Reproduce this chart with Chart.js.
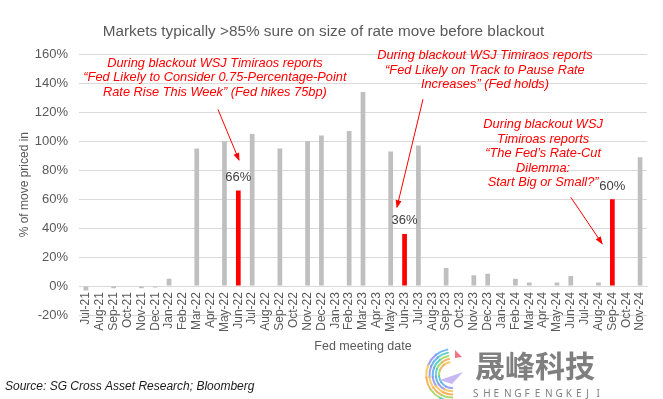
<!DOCTYPE html>
<html>
<head>
<meta charset="utf-8">
<script src="https://cdn.jsdelivr.net/npm/chart.js@4.4.0/dist/chart.umd.min.js"></script>
<style>
  html, body { margin: 0; padding: 0; background: #fff; }
</style>
</head>
<body>
<canvas id="myChart" width="663" height="399"></canvas>
<script>
// les mois (reunions de la Fed ou pas)
const months = ['Jul-21','Aug-21','Sep-21','Oct-21','Nov-21','Dec-21',
  'Jan-22','Feb-22','Mar-22','Apr-22','May-22','Jun-22','Jul-22','Aug-22','Sep-22','Oct-22','Nov-22','Dec-22',
  'Jan-23','Feb-23','Mar-23','Apr-23','May-23','Jun-23','Jul-23','Aug-23','Sep-23','Oct-23','Nov-23','Dec-23',
  'Jan-24','Feb-24','Mar-24','Apr-24','May-24','Jun-24','Jul-24','Aug-24','Sep-24','Oct-24','Nov-24'];

// % du mouvement price avant le blackout (null = pas de reunion)
const pricedIn = [-3, null, -1.5, null, -1.5, -1,
  5, null, 95, null, 100, 66, 105, null, 95, null, 100, 104,
  null, 107, 134, null, 93, 36, 97, null, 12.5, null, 7.5, 8.5,
  null, 5, 2.5, null, 2.5, 7, null, 2.5, 60, null, 89];

// les reunions en rouge
const highlighted = ['Jun-22', 'Jun-23', 'Sep-24'];

const yTicks = { min: -20, max: 160, step: 20 };

// textes rouges (position en unites des axes : [index mois, valeur %])
const notes = [
  { at: [9.31, 154], text: ['During blackout WSJ Timiraos reports',
      '\u201CFed Likely to Consider 0.75-Percentage-Point',
      'Rate Rise This Week\u201D (Fed hikes 75bp)'] },
  { at: [28.8, 159], text: ['During blackout WSJ Timiraos reports',
      '\u201CFed Likely on Track to Pause Rate',
      'Increases\u201D (Fed holds)'] },
  { at: [33.0, 111.5], text: ['During blackout WSJ', 'Timiroas reports',
      '\u201CThe Fed\u2019s Rate-Cut', 'Dilemma:', 'Start Big or Small?\u201D'] }
];
const arrows = [
  { from: [9.53, 122], to: [11.05, 87] },
  { from: [24.33, 129], to: [22.45, 54.4] },
  { from: [35.0, 61.3], to: [37.26, 29.3] }
];

const FONT = '"Liberation Sans", Arial, sans-serif';
const GREY_TXT = '#595959';

function drawArrow(ctx, x1, y1, x2, y2) {
  ctx.beginPath();
  ctx.moveTo(x1, y1);
  ctx.lineTo(x2, y2);
  ctx.stroke();
  const ang = Math.atan2(y2 - y1, x2 - x1);
  const len = 7, w = 3;
  ctx.beginPath();
  ctx.moveTo(x2 + Math.cos(ang) * 1, y2 + Math.sin(ang) * 1);
  ctx.lineTo(x2 - Math.cos(ang) * len - Math.sin(ang) * w, y2 - Math.sin(ang) * len + Math.cos(ang) * w);
  ctx.lineTo(x2 - Math.cos(ang) * len + Math.sin(ang) * w, y2 - Math.sin(ang) * len - Math.cos(ang) * w);
  ctx.closePath();
  ctx.fill();
}

function drawLogo(ctx) {
  // petit logo en filigrane
  const cx = 452, cy = 375;
  const cols = ['#f7c24a', '#f3a64b', '#9ad65a', '#4fc9c4', '#58a9ef', '#8f8ff0'];
  ctx.lineCap = 'round';
  for (let r = 0; r < 5; r++) {
    const rad = 13 + r * 3.2;
    const segs = 6;
    const a0 = -1.75, a1 = 1.55; // sens anti-horaire par la gauche
    for (let s = 0; s < segs; s++) {
      const st = a0 - (s / segs) * (2 * Math.PI - (a1 - a0));
      const en = a0 - ((s + 1) / segs) * (2 * Math.PI - (a1 - a0));
      ctx.strokeStyle = cols[(s + r) % cols.length];
      ctx.globalAlpha = 0.85;
      ctx.lineWidth = 2;
      ctx.beginPath();
      ctx.arc(cx, cy, rad, st, en, true);
      ctx.stroke();
    }
  }
  ctx.globalAlpha = 0.8;
  ctx.fillStyle = '#b9a6f2';
  ctx.beginPath();
  ctx.moveTo(440, 380); ctx.lineTo(463, 372); ctx.lineTo(452, 384); ctx.closePath(); ctx.fill();
  ctx.fillStyle = '#f0506a';
  ctx.beginPath();
  ctx.moveTo(455, 350); ctx.lineTo(462, 357); ctx.lineTo(455, 358); ctx.closePath(); ctx.fill();
  ctx.globalAlpha = 1;

  ctx.fillStyle = '#7f7f7f';
  ctx.textAlign = 'left';
  ctx.textBaseline = 'middle';
  ctx.font = 'bold 30px "Noto Sans CJK SC", sans-serif';
  ctx.fillText('晟峰科技', 475, 366);
  ctx.font = '10px "Noto Sans", sans-serif';
  const word = 'SHENGFENGKEJI';
  let x = 473;
  for (const ch of word) {
    ctx.fillText(ch, x, 394);
    x += 10.3;
  }
}

const notesPlugin = {
  id: 'notes',
  afterDatasetsDraw(chart) {
    const ctx = chart.ctx;
    const xs = chart.scales.x, ys = chart.scales.y;
    const meta = chart.getDatasetMeta(0);
    ctx.save();
    // etiquettes des barres rouges
    ctx.font = '13px ' + FONT;
    ctx.fillStyle = '#404040';
    ctx.textAlign = 'center';
    ctx.textBaseline = 'middle';
    months.forEach((m, i) => {
      if (highlighted.includes(m)) {
        const bar = meta.data[i];
        ctx.fillText(pricedIn[i] + '%', bar.x, bar.y - 13);
      }
    });
    // commentaires
    ctx.font = 'italic 12.8px ' + FONT;
    ctx.fillStyle = '#ff0000';
    notes.forEach(n => {
      const px = xs.getPixelForValue(n.at[0]);
      const py = ys.getPixelForValue(n.at[1]);
      n.text.forEach((t, k) => ctx.fillText(t, px, py + k * 14.5));
    });
    ctx.strokeStyle = '#ff0000';
    ctx.lineWidth = 1;
    arrows.forEach(a => {
      drawArrow(ctx, xs.getPixelForValue(a.from[0]), ys.getPixelForValue(a.from[1]),
        xs.getPixelForValue(a.to[0]), ys.getPixelForValue(a.to[1]));
    });
    ctx.restore();
  },
  afterDraw(chart) {
    const ctx = chart.ctx;
    ctx.save();
    ctx.font = 'italic 12px ' + FONT;
    ctx.fillStyle = '#1a1a1a';
    ctx.textAlign = 'left';
    ctx.textBaseline = 'middle';
    ctx.fillText('Source: SG Cross Asset Research; Bloomberg', 5, 387);
    drawLogo(ctx);
    ctx.restore();
  }
};

const ctx = document.getElementById('myChart');
new Chart(ctx, {
  type: 'bar',
  data: {
    labels: months,
    datasets: [{
      data: pricedIn,
      backgroundColor: months.map(m => highlighted.includes(m) ? '#ff0000' : '#bfbfbf'),
      borderWidth: 0,
      barPercentage: 0.34,
      categoryPercentage: 1
    }]
  },
  options: {
    responsive: false,
    animation: false,
    devicePixelRatio: 1,
    layout: { padding: { left: 0, right: 16, top: 0, bottom: 84 } },
    plugins: {
      legend: { display: false },
      tooltip: { enabled: false },
      title: {
        display: true,
        text: 'Markets typically >85% sure on size of rate move before blackout',
        color: GREY_TXT,
        font: { family: FONT, size: 15.3, weight: 'normal' },
        padding: { top: 23, bottom: 13 }
      }
    },
    scales: {
      x: {
        position: { y: 0 },
        afterFit(s) { s.height = 85; },
        grid: { display: false, drawTicks: false },
        border: { color: '#d9d9d9' },
        ticks: {
          autoSkip: false, minRotation: 90, maxRotation: 90, padding: 6, z: 1,
          color: GREY_TXT, font: { family: FONT, size: 12 }
        },
        title: {
          display: true, text: 'Fed meeting date', color: GREY_TXT,
          font: { family: FONT, size: 12.5 }, padding: { top: 0, bottom: 17 }
        }
      },
      y: {
        min: yTicks.min, max: yTicks.max,
        afterFit(s) { s.width = 79; },
        grid: { color: '#d9d9d9', drawTicks: false },
        border: { display: false },
        ticks: {
          stepSize: yTicks.step, padding: 11, color: GREY_TXT,
          font: { family: FONT, size: 13 },
          callback: v => v + '%'
        },
        title: {
          display: true, text: '% of move priced in', color: GREY_TXT,
          font: { family: FONT, size: 12 }, padding: { top: 17, bottom: 0 }
        }
      }
    }
  },
  plugins: [notesPlugin]
});
</script>
</body>
</html>
